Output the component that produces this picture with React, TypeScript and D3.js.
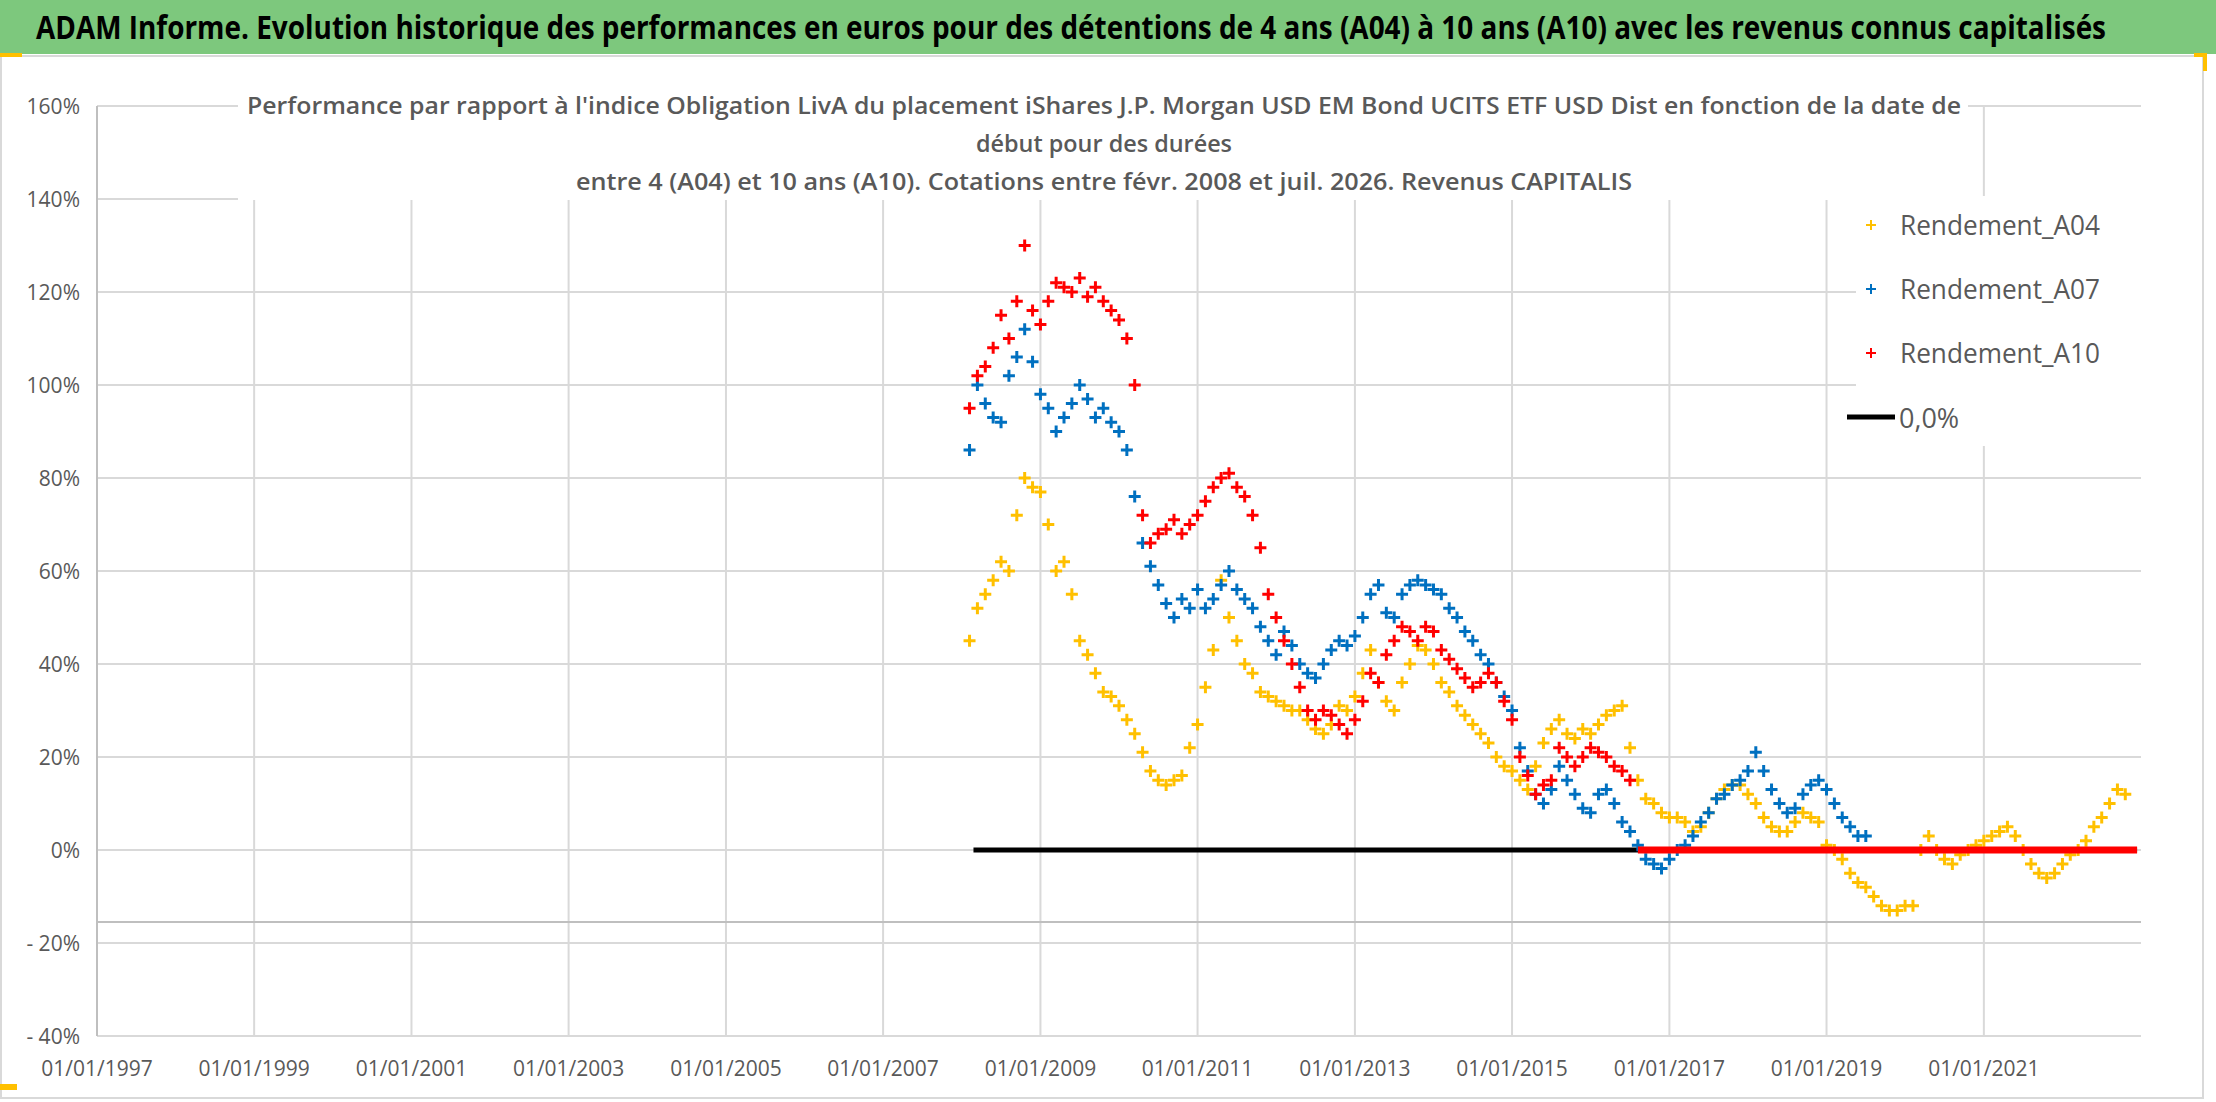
import React, { useEffect, useRef } from "react";
import * as d3 from "d3";

// decimal year -> value (%)
const a04Years = [2008.1, 2008.2, 2008.3, 2008.4, 2008.5, 2008.6, 2008.7, 2008.8, 2008.9, 2009.0, 2009.1, 2009.2, 2009.3, 2009.4, 2009.5, 2009.6, 2009.7, 2009.8, 2009.9, 2010.0, 2010.1, 2010.2, 2010.3, 2010.4, 2010.5, 2010.6, 2010.7, 2010.8, 2010.9, 2011.0, 2011.1, 2011.2, 2011.3, 2011.4, 2011.5, 2011.6, 2011.7, 2011.8, 2011.9, 2012.0, 2012.1, 2012.2, 2012.3, 2012.4, 2012.5, 2012.6, 2012.7, 2012.8, 2012.9, 2013.0, 2013.1, 2013.2, 2013.3, 2013.4, 2013.5, 2013.6, 2013.7, 2013.8, 2013.9, 2014.0, 2014.1, 2014.2, 2014.3, 2014.4, 2014.5, 2014.6, 2014.7, 2014.8, 2014.9, 2015.0, 2015.1, 2015.2, 2015.3, 2015.4, 2015.5, 2015.6, 2015.7, 2015.8, 2015.9, 2016.0, 2016.1, 2016.2, 2016.3, 2016.4, 2016.5, 2016.6, 2016.7, 2016.8, 2016.9, 2017.0, 2017.1, 2017.2, 2017.3, 2017.4, 2017.5, 2017.6, 2017.7, 2017.8, 2017.9, 2018.0, 2018.1, 2018.2, 2018.3, 2018.4, 2018.5, 2018.6, 2018.7, 2018.8, 2018.9, 2019.0, 2019.1, 2019.2, 2019.3, 2019.4, 2019.5, 2019.6, 2019.7, 2019.8, 2019.9, 2020.0, 2020.1, 2020.2, 2020.3, 2020.4, 2020.5, 2020.6, 2020.7, 2020.8, 2020.9, 2021.0, 2021.1, 2021.2, 2021.3, 2021.4, 2021.5, 2021.6, 2021.7, 2021.8, 2021.9, 2022.0, 2022.1, 2022.2, 2022.3, 2022.4, 2022.5, 2022.6, 2022.7, 2022.8];
const a04Values = [45, 52, 55, 58, 62, 60, 72, 80, 78, 77, 70, 60, 62, 55, 45, 42, 38, 34, 33, 31, 28, 25, 21, 17, 15, 14, 15, 16, 22, 27, 35, 43, 58, 50, 45, 40, 38, 34, 33, 32, 31, 30, 30, 28, 26, 25, 27, 31, 30, 33, 38, 43, 36, 32, 30, 36, 40, 44, 43, 40, 36, 34, 31, 29, 27, 25, 23, 20, 18, 17, 15, 13, 18, 23, 26, 28, 25, 24, 26, 25, 27, 29, 30, 31, 22, 15, 11, 10, 8, 7, 7, 6, 4, 5, 8, 11, 13, 14, 14, 12, 10, 7, 5, 4, 4, 6, 8, 7, 6, 1, 0, -2, -5, -7, -8, -10, -12, -13, -13, -12, -12, 0, 3, 0, -2, -3, -1, 0, 1, 2, 3, 4, 5, 3, 0, -3, -5, -6, -5, -3, -1, 0, 2, 5, 7, 10, 13, 12];

const a07Years = [2008.1, 2008.2, 2008.3, 2008.4, 2008.5, 2008.6, 2008.7, 2008.8, 2008.9, 2009.0, 2009.1, 2009.2, 2009.3, 2009.4, 2009.5, 2009.6, 2009.7, 2009.8, 2009.9, 2010.0, 2010.1, 2010.2, 2010.3, 2010.4, 2010.5, 2010.6, 2010.7, 2010.8, 2010.9, 2011.0, 2011.1, 2011.2, 2011.3, 2011.4, 2011.5, 2011.6, 2011.7, 2011.8, 2011.9, 2012.0, 2012.1, 2012.2, 2012.3, 2012.4, 2012.5, 2012.6, 2012.7, 2012.8, 2012.9, 2013.0, 2013.1, 2013.2, 2013.3, 2013.4, 2013.5, 2013.6, 2013.7, 2013.8, 2013.9, 2014.0, 2014.1, 2014.2, 2014.3, 2014.4, 2014.5, 2014.6, 2014.7, 2014.8, 2014.9, 2015.0, 2015.1, 2015.2, 2015.3, 2015.4, 2015.5, 2015.6, 2015.7, 2015.8, 2015.9, 2016.0, 2016.1, 2016.2, 2016.3, 2016.4, 2016.5, 2016.6, 2016.7, 2016.8, 2016.9, 2017.0, 2017.1, 2017.2, 2017.3, 2017.4, 2017.5, 2017.6, 2017.7, 2017.8, 2017.9, 2018.0, 2018.1, 2018.2, 2018.3, 2018.4, 2018.5, 2018.6, 2018.7, 2018.8, 2018.9, 2019.0, 2019.1, 2019.2, 2019.3, 2019.4, 2019.5];
const a07Values = [86, 100, 96, 93, 92, 102, 106, 112, 105, 98, 95, 90, 93, 96, 100, 97, 93, 95, 92, 90, 86, 76, 66, 61, 57, 53, 50, 54, 52, 56, 52, 54, 57, 60, 56, 54, 52, 48, 45, 42, 47, 44, 40, 38, 37, 40, 43, 45, 44, 46, 50, 55, 57, 51, 50, 55, 57, 58, 57, 56, 55, 52, 50, 47, 45, 42, 40, 36, 33, 30, 22, 17, 12, 10, 13, 18, 15, 12, 9, 8, 12, 13, 10, 6, 4, 1, -2, -3, -4, -2, 0, 1, 3, 6, 8, 11, 12, 14, 15, 17, 21, 17, 13, 10, 8, 9, 12, 14, 15, 13, 10, 7, 5, 3, 3];

const a10Years = [2008.1, 2008.2, 2008.3, 2008.4, 2008.5, 2008.6, 2008.7, 2008.8, 2008.9, 2009.0, 2009.1, 2009.2, 2009.3, 2009.4, 2009.5, 2009.6, 2009.7, 2009.8, 2009.9, 2010.0, 2010.1, 2010.2, 2010.3, 2010.4, 2010.5, 2010.6, 2010.7, 2010.8, 2010.9, 2011.0, 2011.1, 2011.2, 2011.3, 2011.4, 2011.5, 2011.6, 2011.7, 2011.8, 2011.9, 2012.0, 2012.1, 2012.2, 2012.3, 2012.4, 2012.5, 2012.6, 2012.7, 2012.8, 2012.9, 2013.0, 2013.1, 2013.2, 2013.3, 2013.4, 2013.5, 2013.6, 2013.7, 2013.8, 2013.9, 2014.0, 2014.1, 2014.2, 2014.3, 2014.4, 2014.5, 2014.6, 2014.7, 2014.8, 2014.9, 2015.0, 2015.1, 2015.2, 2015.3, 2015.4, 2015.5, 2015.6, 2015.7, 2015.8, 2015.9, 2016.0, 2016.1, 2016.2, 2016.3, 2016.4, 2016.5];
const a10Values = [95, 102, 104, 108, 115, 110, 118, 130, 116, 113, 118, 122, 121, 120, 123, 119, 121, 118, 116, 114, 110, 100, 72, 66, 68, 69, 71, 68, 70, 72, 75, 78, 80, 81, 78, 76, 72, 65, 55, 50, 45, 40, 35, 30, 28, 30, 29, 27, 25, 28, 32, 38, 36, 42, 45, 48, 47, 45, 48, 47, 43, 41, 39, 37, 35, 36, 38, 36, 32, 28, 20, 16, 12, 14, 15, 22, 20, 18, 20, 22, 21, 20, 18, 17, 15];
// A10 flat at zero for later start dates
const a10ZeroStart = 2016.6;
const a10ZeroEnd = 2022.95;

const zeroLine = [2008.15, 2022.95];
const yTicks = [-40, -20, 0, 20, 40, 60, 80, 100, 120, 140, 160];
const xTickYears = [1997, 1999, 2001, 2003, 2005, 2007, 2009, 2011, 2013, 2015, 2017, 2019, 2021];
const legendItems = ["Rendement_A04", "Rendement_A07", "Rendement_A10"];
const colors = ["#FFC000", "#0070C0", "#FF0000"];

const toDate = (y: number) => {
  const yr = Math.floor(y);
  const start = new Date(yr, 0, 1).getTime();
  const end = new Date(yr + 1, 0, 1).getTime();
  return new Date(start + (y - yr) * (end - start));
};

export default function App() {
  const ref = useRef<SVGSVGElement>(null);

  useEffect(() => {
    document.body.style.margin = "0";
    const svg = d3.select(ref.current);
    svg.selectAll("*").remove();
    const W = 2216, H = 1102;
    const font = "'Open Sans', Calibri, sans-serif";
    const grey = "#595959";

    svg.append("rect").attr("width", W).attr("height", H).attr("fill", "#fff");
    // banner
    svg.append("rect").attr("x", 0).attr("y", 0).attr("width", W).attr("height", 54).attr("fill", "#7DC87D");
    svg.append("text").attr("x", 36).attr("y", 39).attr("font-family", font).attr("font-weight", 700)
      .attr("font-size", 32).attr("textLength", 2070).attr("lengthAdjust", "spacingAndGlyphs").attr("fill", "#000")
      .text("ADAM Informe. Evolution historique des performances en euros pour des détentions de 4 ans (A04) à 10 ans (A10) avec les revenus connus capitalisés");
    svg.append("rect").attr("x", 1).attr("y", 56).attr("width", W - 14).attr("height", H - 60)
      .attr("fill", "none").attr("stroke", "#D9D9D9").attr("stroke-width", 2);
    svg.append("rect").attr("x", 0).attr("y", 53).attr("width", 22).attr("height", 4).attr("fill", "#FFC000");
    svg.append("rect").attr("x", W - 22).attr("y", 53).attr("width", 12).attr("height", 4).attr("fill", "#FFC000");
    svg.append("rect").attr("x", W - 13).attr("y", 53).attr("width", 4).attr("height", 18).attr("fill", "#FFC000");
    svg.append("rect").attr("x", 0).attr("y", H - 18).attr("width", 17).attr("height", 6).attr("fill", "#FFC000");

    const x = d3.scaleTime().domain([toDate(1997), toDate(2023)]).range([97, 2141]);
    const y = d3.scaleLinear().domain([-40, 160]).range([1036, 106]);

    const g = svg.append("g");
    xTickYears.forEach((yr) => {
      g.append("line").attr("x1", x(toDate(yr))).attr("x2", x(toDate(yr))).attr("y1", y(160)).attr("y2", y(-40))
        .attr("stroke", "#D9D9D9").attr("stroke-width", 2);
      g.append("text").attr("x", x(toDate(yr))).attr("y", 1076).attr("text-anchor", "middle")
        .attr("font-family", font).attr("font-size", 21).attr("fill", grey).text(`01/01/${yr}`);
    });
    yTicks.forEach((v) => {
      g.append("line").attr("x1", x(toDate(1997))).attr("x2", 2141).attr("y1", y(v)).attr("y2", y(v))
        .attr("stroke", "#D9D9D9").attr("stroke-width", 2);
      g.append("text").attr("x", 80).attr("y", y(v) + 8).attr("text-anchor", "end")
        .attr("font-family", font).attr("font-size", 21).attr("fill", grey)
        .text(v < 0 ? `- ${-v}%` : `${v}%`);
    });
    g.append("line").attr("x1", 97).attr("x2", 2141).attr("y1", y(-15.5)).attr("y2", y(-15.5))
      .attr("stroke", "#BFBFBF").attr("stroke-width", 2);
    g.append("line").attr("x1", 97).attr("x2", 97).attr("y1", y(160)).attr("y2", y(-40)).attr("stroke", "#BFBFBF").attr("stroke-width", 2);

    // subtitle box
    svg.append("rect").attr("x", 238).attr("y", 88).attr("width", 1730).attr("height", 112).attr("fill", "#fff");
    const sub = [
      "Performance par rapport à l'indice Obligation LivA  du placement iShares J.P. Morgan USD EM Bond UCITS ETF USD Dist en fonction de la date de",
      "début pour des durées",
      "entre 4 (A04) et 10 ans (A10). Cotations entre févr. 2008 et juil. 2026. Revenus CAPITALIS",
    ];
    const subLen = [1714, 256, 1056];
    sub.forEach((s, i) => {
      svg.append("text").attr("x", 1104).attr("y", 114 + i * 38).attr("text-anchor", "middle")
        .attr("font-family", font).attr("font-weight", 600).attr("font-size", 24).attr("fill", grey)
        .attr("textLength", subLen[i]).attr("lengthAdjust", "spacingAndGlyphs").text(s);
    });

    const drawSeries = (yrs: number[], vals: number[], color: string) => {
      const pts = yrs.map((yr, i) => ({ d: toDate(yr), v: vals[i] }));
      g.append("g").selectAll("path").data(pts).enter().append("path")
        .attr("d", "M-6,0H6M0,-6V6")
        .attr("transform", (p) => `translate(${x(p.d)},${y(p.v)})`)
        .attr("stroke", color).attr("stroke-width", 3).attr("fill", "none");
    };

    // zero line
    g.append("line").attr("x1", x(toDate(zeroLine[0]))).attr("x2", x(toDate(zeroLine[1])))
      .attr("y1", y(0)).attr("y2", y(0)).attr("stroke", "#000").attr("stroke-width", 5);

    drawSeries(a04Years, a04Values, colors[0]);
    drawSeries(a07Years, a07Values, colors[1]);
    drawSeries(a10Years, a10Values, colors[2]);
    g.append("line").attr("x1", x(toDate(a10ZeroStart))).attr("x2", x(toDate(a10ZeroEnd)))
      .attr("y1", y(0)).attr("y2", y(0)).attr("stroke", colors[2]).attr("stroke-width", 7);

    // legend
    svg.append("rect").attr("x", 1856).attr("y", 196).attr("width", 286).attr("height", 250).attr("fill", "#fff");
    legendItems.forEach((name, i) => {
      const ly = 225 + i * 64;
      svg.append("path").attr("d", "M-5,0H5M0,-5V5").attr("transform", `translate(1871,${ly})`)
        .attr("stroke", colors[i]).attr("stroke-width", 2);
      svg.append("text").attr("x", 1900).attr("y", ly + 10).attr("font-family", font).attr("font-size", 27)
        .attr("fill", grey).attr("textLength", 200).attr("lengthAdjust", "spacingAndGlyphs").text(name);
    });
    svg.append("line").attr("x1", 1847).attr("x2", 1895).attr("y1", 417).attr("y2", 417).attr("stroke", "#000").attr("stroke-width", 5);
    svg.append("text").attr("x", 1899).attr("y", 428).attr("font-family", font).attr("font-size", 27)
      .attr("fill", grey).text("0,0%");
  }, []);

  return <svg ref={ref} width={2216} height={1102} style={{ display: "block" }} />;
}
